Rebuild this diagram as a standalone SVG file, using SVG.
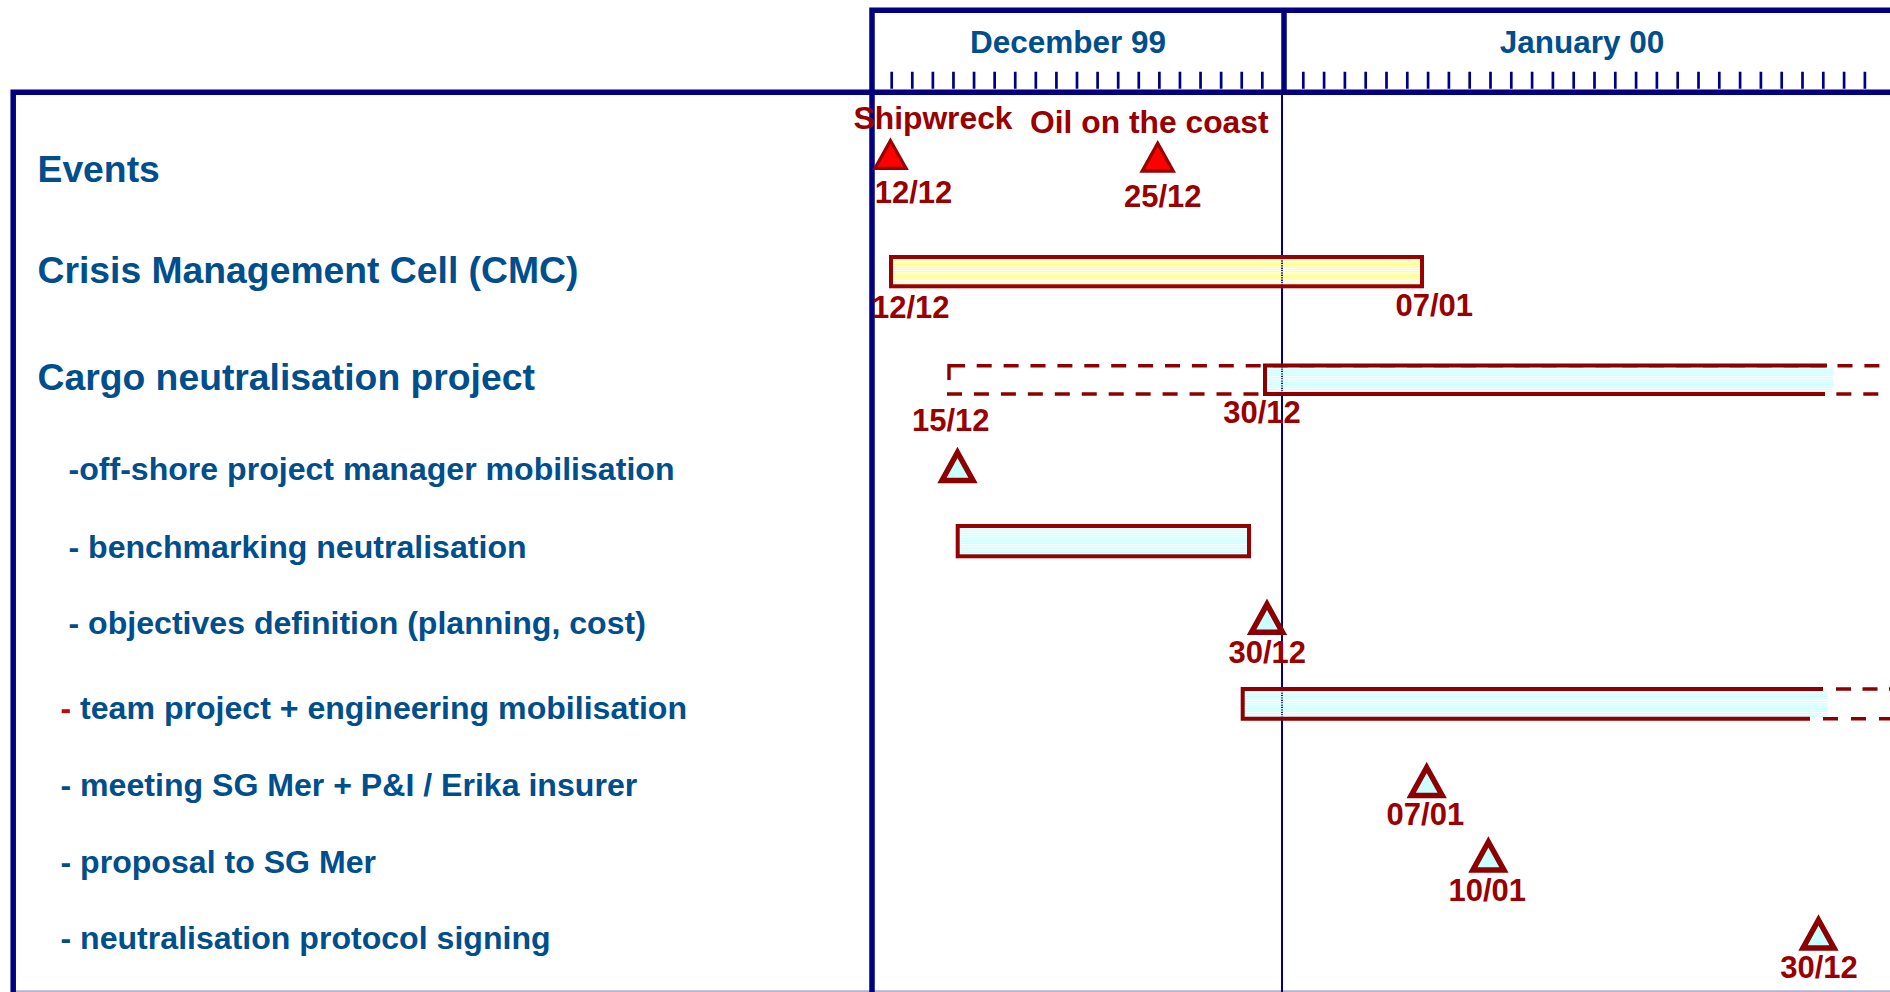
<svg xmlns="http://www.w3.org/2000/svg" width="1890" height="992" viewBox="0 0 1890 992">
<defs>
<pattern id="yel" patternUnits="userSpaceOnUse" width="8" height="2.4"><rect x="0" y="0" width="8" height="1.2" fill="#FFFF88"/></pattern>
<pattern id="cya" patternUnits="userSpaceOnUse" width="8" height="2.4"><rect x="0" y="0" width="8" height="1.4" fill="#CCFFFF"/></pattern>
<style>
text{font-family:"Liberation Sans",Arial,sans-serif;font-weight:bold}
.h{font-size:37.3px;fill:#004E8C}
.s{font-size:32.1px;fill:#004E8C}
.m{font-size:31.5px;fill:#004E8C;text-anchor:middle}
.r{font-size:31.8px;fill:#990000}
.d{font-size:31px;fill:#990000;text-anchor:middle}
.frame{fill:none;stroke:#000080;stroke-width:5.5;stroke-linecap:square;stroke-linejoin:miter}
.tick{fill:none;stroke:#000080;stroke-width:17}
.bar{stroke:#990000;stroke-width:4}
.sol{fill:none;stroke:#8C0000;stroke-width:4}
.dash{fill:none;stroke:#8C0000;stroke-width:3.4}
.ev{fill:#FF0000;stroke:#990000;stroke-width:3.3;stroke-linejoin:miter}
.ms{fill:#CCFFFF;stroke:#8B0000;stroke-width:5.5;stroke-linejoin:miter}
</style>
<path id="tri" d="M0,-14.6 L15.5,13 L-15.5,13 Z"/>
<path id="htri" d="M0,-15 L15.5,13 L-15.5,13 Z"/>
</defs>
<rect x="0" y="0" width="1890" height="992" fill="#FFFFFF"/>

<g id="timescale">
<line x1="1282" y1="92" x2="1282" y2="992" stroke="#000080" stroke-width="2"/>
<path class="tick" d="M890.35 80.3 H1263.8" stroke-dasharray="2.7 17.89"/>
<path class="tick" d="M1301.95 80.3 H1866.3" stroke-dasharray="2.7 18.1"/>
<path class="frame" d="M872 992 V10.3 H1895"/>
<path class="frame" d="M13.2 992 V92.3 H1895"/>
<line x1="1284" y1="10.3" x2="1284" y2="92.3" stroke="#000080" stroke-width="5.5"/>
<line x1="13" y1="991.3" x2="1890" y2="991.3" stroke="#000080" stroke-opacity="0.3" stroke-width="2"/>
<text class="m" x="1068" y="52.7">December 99</text>
<text class="m" x="1582" y="52.7">January 00</text>
</g>

<g id="events">
<text class="h" x="37.5" y="181.7">Events</text>
<use href="#tri" class="ev" x="890.5" y="155.3"/>
<use href="#tri" class="ev" x="1157.7" y="158"/>
<text class="r" x="853.5" y="128.5">Shipwreck</text>
<text class="r" x="1030" y="132.7">Oil on the coast</text>
<text class="d" x="913.5" y="203.3">12/12</text>
<text class="d" x="1162.8" y="207.3">25/12</text>
</g>

<g id="cmc">
<text class="h" x="37.5" y="282.7">Crisis Management Cell (CMC)</text>
<rect class="bar" x="891" y="257" width="531" height="29.3" fill="url(#yel)"/>
<text class="d" x="910.8" y="318.3">12/12</text>
<text class="d" x="1434.2" y="316">07/01</text>
</g>

<g id="cargo">
<text class="h" x="37.5" y="390">Cargo neutralisation project</text>
<path class="dash" d="M949 380 V365.7 H965"/>
<path class="dash" d="M976.7 365.7 H1900" stroke-dasharray="15 11.9"/>
<path class="dash" d="M947 394 H1900" stroke-dasharray="15 11.95"/>
<rect x="1265" y="367.5" width="568" height="24.5" fill="url(#cya)"/>
<path class="sol" d="M1827 365.5 H1265 V394 H1825"/>
<text class="d" x="950.7" y="431">15/12</text>
<text class="d" x="1262" y="423.3">30/12</text>
</g>

<g id="offshore">
<text class="s" x="68.5" y="480">-off-shore project manager mobilisation</text>
<use href="#htri" class="ms" x="957.5" y="467.5"/>
</g>

<g id="benchmarking">
<text class="s" x="68.5" y="558">- benchmarking neutralisation</text>
<rect class="bar" x="957.7" y="526" width="291.3" height="30.3" fill="url(#cya)"/>
</g>

<g id="objectives">
<text class="s" x="68.5" y="633.5">- objectives definition (planning, cost)</text>
<use href="#htri" class="ms" x="1267" y="619.3"/>
<text class="d" x="1267.2" y="662.7">30/12</text>
</g>

<g id="team">
<text class="s" x="60.5" y="719"><tspan fill="#CC0000">-</tspan> team project + engineering mobilisation</text>
<rect x="1242.7" y="691" width="585" height="26" fill="url(#cya)"/>
<path class="sol" d="M1823 689 H1242.7 V718.7 H1810"/>
<path class="dash" d="M1836 689 H1900" stroke-dasharray="15 11.5"/>
<path class="dash" d="M1823 718.7 H1900" stroke-dasharray="15 13"/>
</g>

<g id="meeting">
<text class="s" x="60.5" y="796">- meeting SG Mer + P&amp;I / Erika insurer</text>
<use href="#htri" class="ms" x="1426.7" y="782.5"/>
<text class="d" x="1425.4" y="825">07/01</text>
</g>

<g id="proposal">
<text class="s" x="60.5" y="872.5">- proposal to SG Mer</text>
<use href="#htri" class="ms" x="1488.4" y="857"/>
<text class="d" x="1487.2" y="900.7">10/01</text>
</g>

<g id="signing">
<text class="s" x="60.5" y="949">- neutralisation protocol signing</text>
<use href="#htri" class="ms" x="1818.5" y="935"/>
<text class="d" x="1819" y="978.3">30/12</text>
</g>

<g id="connectors"/>
</svg>
